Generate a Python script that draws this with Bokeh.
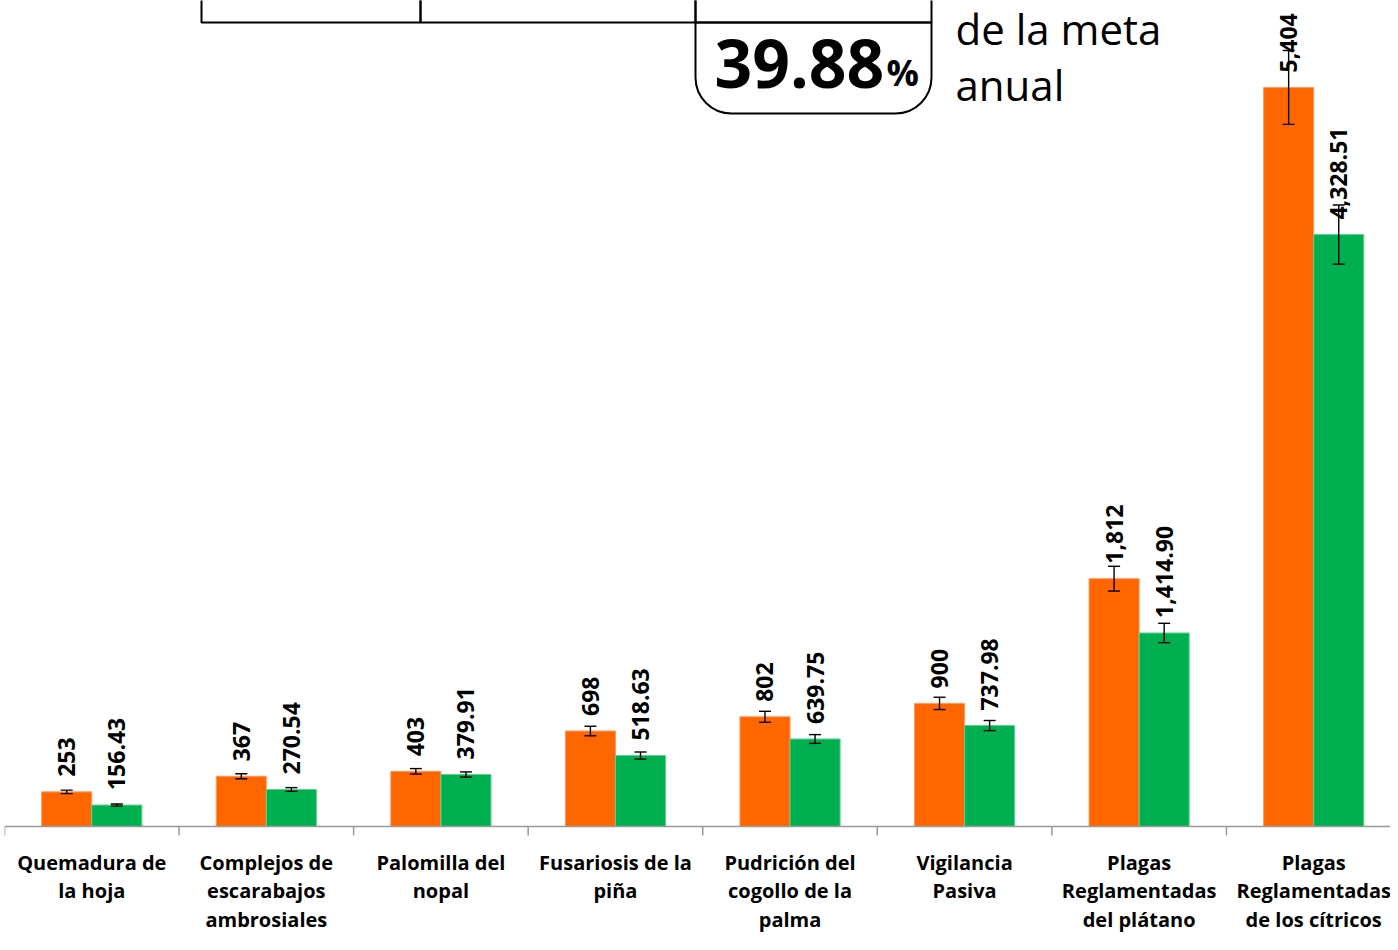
from math import pi
from bokeh.plotting import figure
from bokeh.models import (ColumnDataSource, Range1d, Whisker, Span,
                          BoxAnnotation, Label)
from bokeh.core.properties import value
from bokeh.embed import file_html
from bokeh.resources import INLINE

# ---- data ----
categories = ["Quemadura de\nla hoja", "Complejos de\nescarabajos\nambrosiales",
              "Palomilla del\nnopal", "Fusariosis de la\npiña",
              "Pudrición del\ncogollo de la\npalma", "Vigilancia\nPasiva",
              "Plagas\nReglamentadas\ndel plátano",
              "Plagas\nReglamentadas\nde los cítricos"]
meta = [253, 367, 403, 698, 802, 900, 1812, 5404]
avance = [156.43, 270.54, 379.91, 518.63, 639.75, 737.98, 1414.90, 4328.51]
err_meta = [12.65, 18.35, 20.15, 34.9, 40.1, 45.0, 90.6, 270.2]
err_avance = [7.82, 13.53, 18.99, 25.93, 31.99, 36.9, 70.75, 216.43]
meta_labels = [f"{v:,.0f}" for v in meta]
avance_labels = [f"{v:,.2f}" for v in avance]
pct_text = "39.88"

ORANGE = "#FF6600"
GREEN = "#00B050"
N = len(categories)
XEND = 7.94
YMAX = 6040
YMIN = -790
BW = 0.287
LEFT = 4
W, H = 1390, 934
CW = (W - LEFT) / XEND          # pixels per category
KY = (YMAX - YMIN) / H          # data units per pixel


def xd(px):
    return (px - LEFT) / CW


def yd(py):
    return YMAX - py * KY


idx = list(range(N))
src_o = ColumnDataSource(dict(x=[i + 0.5 - BW / 2 for i in idx], top=meta,
                              lo=[m - e for m, e in zip(meta, err_meta)],
                              hi=[m + e for m, e in zip(meta, err_meta)],
                              lab=meta_labels))
src_g = ColumnDataSource(dict(x=[i + 0.5 + BW / 2 for i in idx], top=avance,
                              lo=[m - e for m, e in zip(avance, err_avance)],
                              hi=[m + e for m, e in zip(avance, err_avance)],
                              lab=avance_labels))
src_cat = ColumnDataSource(dict(x=[i + 0.5 for i in idx], y=[yd(848)] * N, t=categories))
src_tick = ColumnDataSource(dict(x=list(range(N + 1)), y0=[0] * (N + 1),
                                 y1=[yd(835)] * (N + 1)))

p = figure(width=W, height=H, output_backend="svg", toolbar_location=None,
           x_range=Range1d(0, XEND), y_range=Range1d(YMIN, YMAX),
           min_border_left=LEFT, min_border_right=0, min_border_top=0, min_border_bottom=0)
p.outline_line_color = None
p.xgrid.visible = False
p.ygrid.visible = False
p.yaxis.visible = False
p.xaxis.visible = False

# category axis drawn by hand
p.add_layout(Span(location=0, dimension="width", line_color="#999999", line_width=1.5))
p.segment(x0="x", y0="y0", x1="x", y1="y1", source=src_tick,
          line_color="#999999", line_width=1.5)
p.text(x="x", y="y", text="t", source=src_cat, text_align="center", text_baseline="top",
       text_font=value("Open Sans"), text_font_style="bold", text_font_size="20px",
       text_color="black", text_line_height=1.06)

p.vbar(x="x", top="top", width=BW, source=src_o, fill_color=ORANGE,
       line_color="#FF9A60", line_width=1)
p.vbar(x="x", top="top", width=BW, source=src_g, fill_color=GREEN,
       line_color="#60D090", line_width=1)

for s in (src_o, src_g):
    w = Whisker(base="x", upper="hi", lower="lo", source=s, line_color="black",
                line_width=1.4, level="overlay")
    w.upper_head.size = 12
    w.lower_head.size = 12
    w.upper_head.line_color = "black"
    w.lower_head.line_color = "black"
    w.upper_head.line_width = 1.4
    w.lower_head.line_width = 1.4
    p.add_layout(w)
    p.text(x="x", y="top", text="lab", source=s, angle=pi / 2, text_align="left",
           text_baseline="middle", y_offset=-15, text_font=value("Open Sans"),
           text_font_style="bold", text_font_size="23px", text_color="black")

# ---- decorations at the top ----
for l, r in [(201, 420), (420, 695), (695, 931)]:
    p.add_layout(BoxAnnotation(left=xd(l), right=xd(r), bottom=yd(22), top=yd(-40),
                               fill_alpha=0, line_color="black", line_alpha=1,
                               line_width=2))
p.add_layout(BoxAnnotation(left=xd(695), right=xd(931), bottom=yd(113), top=yd(22),
                           fill_alpha=0, line_color="black", line_alpha=1, line_width=2,
                           border_radius=(0, 0, 36, 36)))
p.add_layout(Label(x=xd(714), y=yd(63), text=pct_text, text_font="Open Sans",
                   text_font_style="bold", text_font_size="66px", text_color="black",
                   text_baseline="alphabetic"))
p.add_layout(Label(x=xd(886), y=yd(72), text="%", text_font="Open Sans",
                   text_font_style="bold", text_font_size="36px", text_color="black",
                   text_baseline="alphabetic"))
p.add_layout(Label(x=xd(955), y=yd(28), text="de la meta", text_font="Open Sans",
                   text_font_size="42px", text_color="black", text_baseline="alphabetic"))
p.add_layout(Label(x=xd(955), y=yd(84), text="anual", text_font="Open Sans",
                   text_font_size="42px", text_color="black", text_baseline="alphabetic"))

open("out.html", "w").write(file_html(p, INLINE))
